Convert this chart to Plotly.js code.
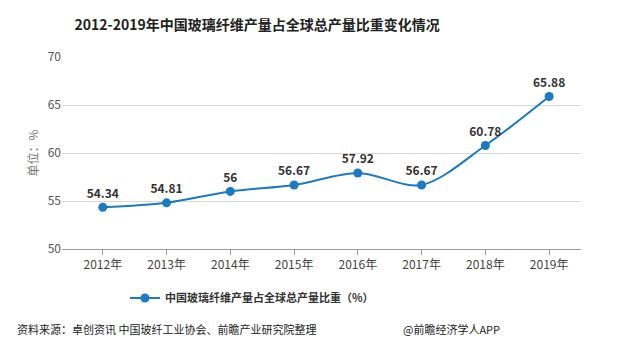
<!DOCTYPE html>
<html><head><meta charset="utf-8">
<script src="https://cdn.plot.ly/plotly-3.0.1.min.js"></script>
<style>html,body{margin:0;padding:0;background:#fff}</style>
</head><body><div id="chart" style="width:618px;height:355px"></div>
<script>
const categories = ["2012年","2013年","2014年","2015年","2016年","2017年","2018年","2019年"];
const shareValues = [54.34, 54.81, 56, 56.67, 57.92, 56.67, 60.78, 65.88];
const valueLabels = ["54.34","54.81","56","56.67","57.92","56.67","60.78","65.88"];
const seriesName = "中国玻璃纤维产量占全球总产量比重（%）";
const yTicks = [50, 55, 60, 65, 70];

const font = '"Noto Sans CJK SC", "Noto Sans", sans-serif';
const trace = {
  x: categories, y: shareValues, type: 'scatter', mode: 'lines+markers+text',
  name: seriesName,
  line: {color: '#1a7ac2', width: 2, shape: 'spline', smoothing: 0.9},
  marker: {color: '#1a7ac2', size: 9},
  text: valueLabels, textposition: 'top center',
  textfont: {family: font, size: 12, color: '#333', weight: 'bold'},
  cliponaxis: false
};
const layout = {
  width: 618, height: 355,
  margin: {l: 62, r: 37, t: 57, b: 106},
  paper_bgcolor: '#fff', plot_bgcolor: '#fff',
  font: {family: font, size: 12, color: '#555'},
  title: {text: '<b>2012-2019年中国玻璃纤维产量占全球总产量比重变化情况</b>', x: 0.416, xanchor: 'center', y: 0.93, yanchor: 'middle',
    font: {family: font, size: 14, color: '#222'}},
  xaxis: {type: 'category', range: [-0.64, 7.5], showgrid: false, zeroline: false,
    showline: true, linecolor: '#999', ticks: 'outside', ticklen: 5, tickcolor: '#999',
    tickfont: {size: 12, color: '#444'}, fixedrange: true},
  yaxis: {range: [50, 70], tickvals: yTicks, showgrid: true, gridcolor: '#d9d9d9', zeroline: false,
    showline: false, ticks: '', tickfont: {size: 12, color: '#555'},
    title: {text: '单位：%', font: {size: 12, color: '#777'}, standoff: 6}},
  showlegend: true,
  legend: {orientation: 'h', x: 0.366, xanchor: 'center', y: -0.255, yanchor: 'middle',
    font: {size: 11, color: '#333', weight: 'bold'}, itemwidth: 30},
  annotations: [
    {text: '资料来源：卓创资讯 中国玻纤工业协会、前瞻产业研究院整理', xref: 'paper', yref: 'paper',
     x: (15-62)/519, xanchor: 'left', y: (249-329)/192, yanchor: 'middle', showarrow: false,
     font: {size: 11, color: '#222'}},
    {text: '@前瞻经济学人APP', xref: 'paper', yref: 'paper',
     x: (502-62)/519, xanchor: 'right', y: (249-329)/192, yanchor: 'middle', showarrow: false,
     font: {size: 11, color: '#222'}}
  ]
};
Plotly.newPlot('chart', [trace], layout, {displayModeBar: false, staticPlot: true});
</script></body></html>
